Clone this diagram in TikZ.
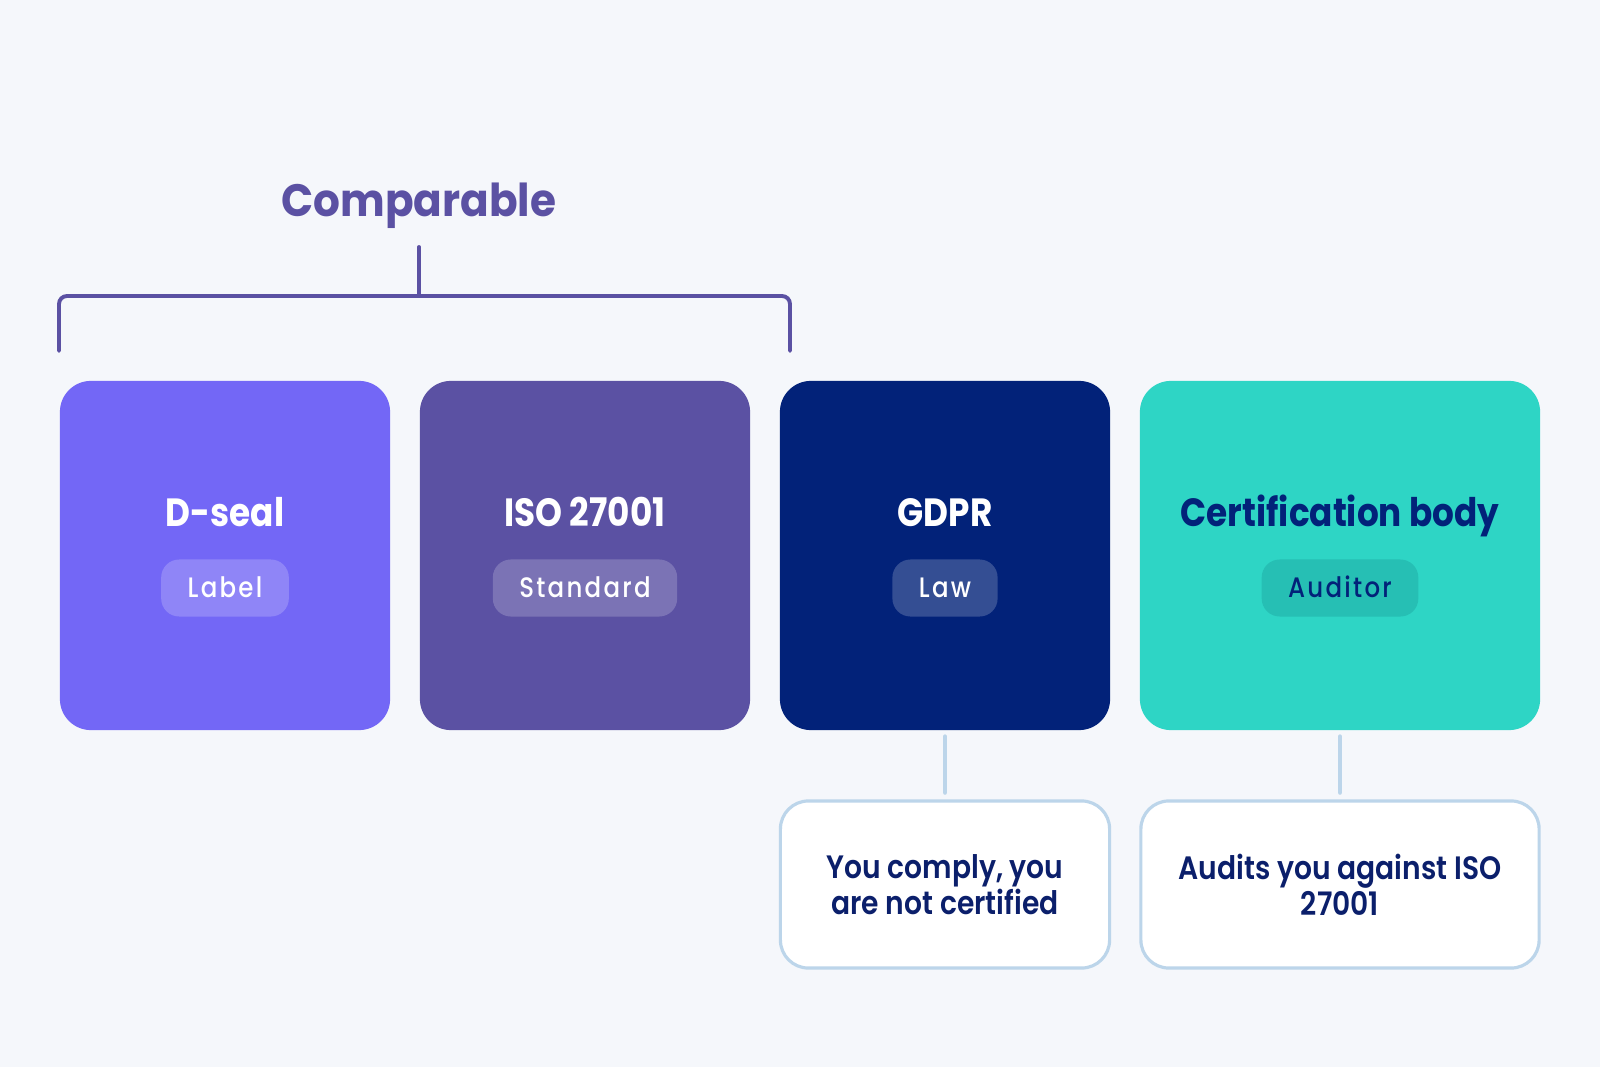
\documentclass[tikz,border=0pt]{standalone}
\usepackage{fontspec}
\setmainfont{Poppins}
\newfontfamily\compfont[FakeStretch=0.93]{Poppins Bold}
\newfontfamily\headfont[FakeStretch=0.87]{Poppins Bold}
\newfontfamily\medfont[FakeStretch=0.87]{Poppins SemiBold}
\newfontfamily\pillfont[FakeStretch=0.87, LetterSpace=8]{Poppins Medium}
\usetikzlibrary{positioning}

\definecolor{pagebg}{HTML}{F5F7FB}
\definecolor{sealblue}{HTML}{7367F6}
\definecolor{isopurple}{HTML}{5B51A3}
\definecolor{gdprnavy}{HTML}{022279}
\definecolor{certteal}{HTML}{2ED5C5}
\definecolor{auditteal}{HTML}{26BFB4}
\definecolor{lineblue}{HTML}{BCD5EA}
\definecolor{notetext}{HTML}{0B1F6B}

\begin{document}
\begin{tikzpicture}[x=0.01cm, y=-0.01cm,
  card/.style={rounded corners=0.31cm, minimum width=3.3cm, minimum height=3.49cm, inner sep=0pt},
  head/.style={anchor=base, text=white, font=\headfont\fontsize{11.2pt}{13pt}\selectfont},
  pill/.style={rounded corners=0.18cm, minimum height=0.57cm, inner xsep=0.265cm, text height=0.195cm, text depth=0cm,
    fill=white, fill opacity=0.2, text opacity=1, text=white, font=\pillfont\fontsize{8pt}{9pt}\selectfont},
  note/.style={draw=lineblue, line width=0.9pt, fill=white, rounded corners=0.28cm, minimum height=1.67cm,
    align=center, text=notetext, font=\medfont\fontsize{9.2pt}{10.25pt}\selectfont},
  link/.style={draw=lineblue, line width=1.4pt, line cap=round, shorten <=0.06cm, shorten >=0.07cm},
  bracket/.style={draw=isopurple, line width=1.1pt, line cap=round}]

  \fill[pagebg] (0,0) rectangle (1600,1067);

  % heading and bracket
  \node[anchor=base, text=isopurple, font=\compfont\fontsize{12.9pt}{15pt}\selectfont] (comp) at (419,217) {Comparable};
  \coordinate (stemtop) at (419,247);
  \coordinate (bl) at (59,351);
  \coordinate (br) at (790,351);
  \draw[bracket, rounded corners=0.08cm] (bl) -- ++(0,-55) -| (br);
  \draw[bracket] (stemtop) -- ++(0,49);

  % the four cards
  \node[card, fill=sealblue] (dseal) at (225,555.5) {};
  \node[card, fill=isopurple] (iso) at (585,555.5) {};
  \node[card, fill=gdprnavy] (gdpr) at (945,555.5) {};
  \node[card, fill=certteal, minimum width=4cm] (cert) at (1340,555.5) {};

  \node[head] (dsealtitle) at (225,526) {D-seal};
  \node[head] (isotitle) at (585,526) {ISO 27001};
  \node[head] (gdprtitle) at (945,526) {GDPR};
  \node[head, text=gdprnavy] (certtitle) at (1340,526) {Certification body};

  \node[pill] (dsealpill) at (225,588) {Label};
  \node[pill] (isopill) at (585,588) {Standard};
  \node[pill] (gdprpill) at (945,588) {Law};
  \node[pill, fill=auditteal, fill opacity=1, text=gdprnavy] (certpill) at (1340,588) {Auditor};

  % notes below
  \node[note, minimum width=3.29cm] (gdprnote) at (945,884.5) {You comply, you\\are not certified};
  \node[note, minimum width=3.98cm] (certnote) at (1340,884.5) {Audits you against ISO\\27001};

  \draw[link] (gdpr) -- (gdprnote);
  \draw[link] (cert) -- (certnote);
\end{tikzpicture}
\end{document}
